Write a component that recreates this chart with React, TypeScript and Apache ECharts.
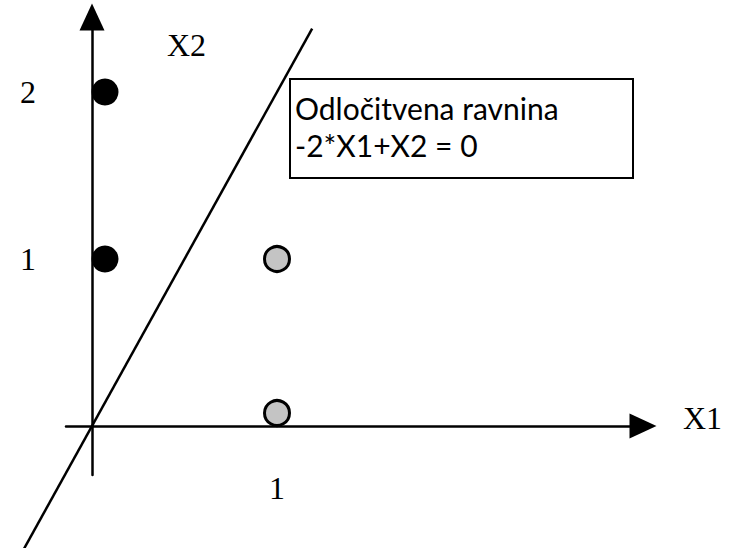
import React, { useEffect, useRef } from "react";
import * as echarts from "echarts";

// Data
const classA: number[][] = [
  [0, 1],
  [0, 2],
]; // black points
const classB: number[][] = [
  [1, 1],
  [1, 0],
]; // gray points
const boundaryLine: number[][] = [
  [-0.42, -0.84],
  [1.19, 2.38],
]; // -2*X1 + X2 = 0
const xTickLabels: number[] = [1];
const yTickLabels: number[] = [1, 2];
const xAxisName = "X1";
const yAxisName = "X2";
const annotationLines: string[] = ["Odločitvena ravnina", "-2*X1+X2 = 0"];

const SERIF = "'Liberation Serif', 'Times New Roman', serif";
const SANS = "Lato, 'Liberation Sans', sans-serif";

// Layout (pixels)
const W = 730;
const H = 548;
const X0PX = 92; // pixel of X1 = 0
const XUNIT = 185; // pixels per X1 unit
const Y0PX = 426; // pixel of X2 = 0
const YUNIT = 167; // pixels per X2 unit
const G = { left: 66, right: 643, top: 17, bottom: 475 }; // visible axes box

export default function App() {
  const ref = useRef<HTMLDivElement>(null);

  useEffect(() => {
    if (!ref.current) return;
    const chart = echarts.init(ref.current, null, { renderer: "svg" });
    const axisLineStyle = { color: "#000", width: 2.5 };
    const px2x = (p: number) => (p - X0PX) / XUNIT;
    const px2y = (p: number) => (Y0PX - p) / YUNIT;

    chart.setOption({
      animation: false,
      backgroundColor: "#fff",
      grid: [
        {
          left: G.left,
          top: G.top,
          width: G.right - G.left,
          height: G.bottom - G.top,
          containLabel: false,
          outerBoundsMode: "none",
        },
        {
          left: 0,
          top: 0,
          width: W,
          height: H,
          containLabel: false,
          outerBoundsMode: "none",
        },
      ],
      xAxis: [
        {
          type: "value",
          gridIndex: 0,
          min: px2x(G.left),
          max: px2x(G.right),
          splitLine: { show: false },
          axisTick: { show: false },
          axisLine: {
            show: true,
            onZero: true,
            symbol: ["none", "triangle"],
            symbolSize: [25, 27],
            lineStyle: axisLineStyle,
          },
          axisLabel: {
            margin: -3,
            fontFamily: SERIF,
            fontSize: 32,
            color: "#000",
            formatter: (v: number) => (xTickLabels.includes(v) ? String(v) : ""),
          },
        },
        {
          type: "value",
          gridIndex: 1,
          min: px2x(0),
          max: px2x(W),
          show: false,
        },
      ],
      yAxis: [
        {
          type: "value",
          gridIndex: 0,
          min: px2y(G.bottom),
          max: px2y(G.top),
          splitLine: { show: false },
          axisTick: { show: false },
          axisLine: {
            show: true,
            onZero: true,
            symbol: ["none", "triangle"],
            symbolSize: [25, 27],
            lineStyle: axisLineStyle,
          },
          axisLabel: {
            margin: 30,
            fontFamily: SERIF,
            fontSize: 32,
            color: "#000",
            formatter: (v: number) => (yTickLabels.includes(v) ? String(v) : ""),
          },
        },
        {
          type: "value",
          gridIndex: 1,
          min: px2y(H),
          max: px2y(0),
          show: false,
        },
      ],
      series: [
        {
          type: "line",
          xAxisIndex: 1,
          yAxisIndex: 1,
          data: boundaryLine,
          clip: false,
          symbol: "none",
          lineStyle: { color: "#000", width: 2.5 },
          z: 1,
        },
        {
          type: "scatter",
          xAxisIndex: 0,
          yAxisIndex: 0,
          data: classA,
          clip: false,
          symbol: "circle",
          symbolSize: 27,
          symbolOffset: [13, 0],
          itemStyle: { color: "#000", opacity: 1 },
          z: 3,
        },
        {
          type: "scatter",
          xAxisIndex: 0,
          yAxisIndex: 0,
          clip: false,
          data: classB.map((p) =>
            p[1] === 0 ? { value: p, symbolOffset: [0, -13] } : { value: p }
          ),
          symbol: "circle",
          symbolSize: 25,
          itemStyle: {
            color: "#c4c4c4",
            borderColor: "#000",
            borderWidth: 3,
            opacity: 1,
          },
          z: 3,
        },
      ],
      graphic: [
        {
          type: "text",
          left: 683,
          top: 402,
          style: {
            text: xAxisName,
            font: `32px ${SERIF}`,
            fill: "#000",
          },
        },
        {
          type: "text",
          left: 167,
          top: 29,
          style: {
            text: yAxisName,
            font: `32px ${SERIF}`,
            fill: "#000",
          },
        },
        {
          type: "group",
          left: 289,
          top: 78,
          children: [
            {
              type: "rect",
              shape: { x: 0, y: 0, width: 343, height: 99 },
              style: { fill: "#fff", stroke: "#000", lineWidth: 2 },
            },
            {
              type: "text",
              x: 5,
              y: 29,
              style: {
                text: annotationLines[0],
                font: `30px ${SANS}`,
                fill: "#000",
                verticalAlign: "middle",
              },
            },
            {
              type: "text",
              x: 5,
              y: 66,
              style: {
                text: annotationLines[1],
                font: `30px ${SANS}`,
                fill: "#000",
                verticalAlign: "middle",
              },
            },
          ],
        },
      ],
    });

    return () => {
      chart.dispose();
    };
  }, []);

  return (
    <div
      ref={ref}
      style={{
        position: "fixed",
        left: 0,
        top: 0,
        width: W,
        height: H,
        background: "#fff",
      }}
    />
  );
}
